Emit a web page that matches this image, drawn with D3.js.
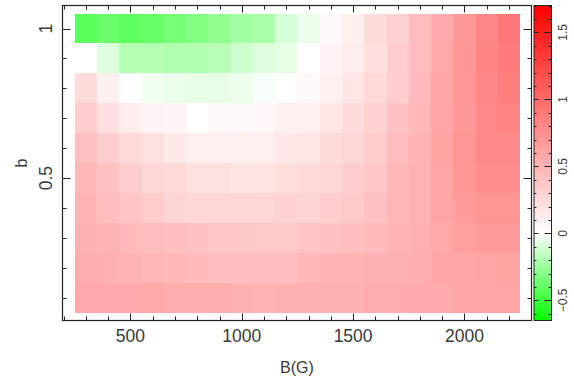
<!DOCTYPE html>
<html><head><meta charset="utf-8">
<script src="https://cdn.jsdelivr.net/npm/d3@7"></script>
<style>
html,body{margin:0;padding:0;background:#fff;}
svg{display:block;font-family:"Liberation Sans",Arial,sans-serif;}
</style></head>
<body><svg id="chart" width="574" height="383"></svg>
<script>
// ---- data ----
const Bvalues = [300,400,500,600,700,800,900,1000,1100,1200,1300,1400,1500,1600,1700,1800,1900,2000,2100,2200];
const bvalues = [1.0,0.9,0.8,0.7,0.6,0.5,0.4,0.3,0.2,0.1];
const row_b10 = [-0.42,-0.38,-0.405,-0.39,-0.344,-0.324,-0.283,-0.235,-0.222,-0.107,-0.05,0.04,0.1,0.233,0.313,0.447,0.567,0.687,0.807,0.907];
const row_b09 = [0.0,-0.087,-0.189,-0.189,-0.2,-0.2,-0.18,-0.13,-0.087,-0.065,0.0,0.08,0.127,0.213,0.333,0.447,0.573,0.693,0.813,0.887];
const row_b08 = [0.233,0.1,0.0,-0.038,-0.055,-0.06,-0.06,-0.043,-0.018,0.0,0.047,0.1,0.167,0.26,0.333,0.453,0.587,0.707,0.8,0.853];
const row_b07 = [0.333,0.213,0.127,0.073,0.067,0.0,0.04,0.047,0.06,0.1,0.113,0.167,0.247,0.3,0.413,0.473,0.6,0.68,0.787,0.813];
const row_b06 = [0.427,0.333,0.247,0.207,0.14,0.113,0.1,0.1,0.113,0.153,0.167,0.233,0.273,0.347,0.447,0.5,0.613,0.707,0.787,0.787];
const row_b05 = [0.473,0.407,0.333,0.273,0.26,0.207,0.207,0.18,0.193,0.22,0.247,0.273,0.333,0.373,0.473,0.513,0.6,0.707,0.76,0.76];
const row_b04 = [0.507,0.447,0.393,0.347,0.287,0.273,0.273,0.273,0.273,0.3,0.287,0.333,0.36,0.413,0.487,0.513,0.6,0.667,0.707,0.707];
const row_b03 = [0.527,0.5,0.46,0.447,0.433,0.407,0.373,0.373,0.36,0.36,0.393,0.413,0.433,0.46,0.5,0.533,0.573,0.633,0.667,0.667];
const row_b02 = [0.553,0.533,0.5,0.487,0.473,0.46,0.433,0.433,0.433,0.433,0.473,0.507,0.507,0.52,0.527,0.54,0.587,0.587,0.6,0.613];
const row_b01 = [0.567,0.567,0.567,0.573,0.553,0.553,0.54,0.52,0.507,0.52,0.527,0.527,0.527,0.553,0.553,0.567,0.567,0.587,0.587,0.6];
const rows = [row_b10,row_b09,row_b08,row_b07,row_b06,row_b05,row_b04,row_b03,row_b02,row_b01];
const xTickLabels = [500,1000,1500,2000];
const yTickLabels = [0.5,1];
const cbTickLabels = [-0.5,0,0.5,1,1.5];
const colorDomain = [-0.65,0,1.7];
const colorRange = ["#00ff00","#ffffff","#ff0000"];

// ---- layout ----
const L=62.5, R=531.5, T=5.5, B=320.5;
const svg = d3.select("#chart");
const x = d3.scaleLinear().domain([195,2301]).range([L,R]);
const y = d3.scaleLinear().domain([0.024,1.077]).range([B,T]);
const color = d3.scaleLinear().domain(colorDomain).range(colorRange);

const cells = [];
rows.forEach((r,i)=>r.forEach((v,j)=>cells.push({B:Bvalues[j], b:bvalues[i], v})));
svg.append("g").selectAll("rect").data(cells).join("rect")
  .attr("x",d=>x(d.B-50)).attr("width",d=>x(d.B+50)-x(d.B-50))
  .attr("y",d=>y(d.b+0.05)).attr("height",d=>y(d.b-0.05)-y(d.b+0.05))
  .attr("fill",d=>color(d.v)).attr("shape-rendering","crispEdges");

const ax = "#222";
const txt = "#3a3a3a";
const xMinor = d3.range(200,2301,100).filter(v=>v%500!==0);
const xMajor = xTickLabels;
const yMinor = d3.range(1,11).map(i=>i/10).filter(v=>Math.abs(v*2-Math.round(v*2))>1e-6);
const yMajor = yTickLabels;

function ticks(g, vals, len, orient){
  g.selectAll(null).data(vals).join("line")
   .attr("stroke",ax).attr("stroke-width",1)
   .attr("x1",d=>orient==="b"||orient==="t"?Math.round(x(d))+0.5:(orient==="l"?L:R))
   .attr("x2",d=>orient==="b"||orient==="t"?Math.round(x(d))+0.5:(orient==="l"?L+len:R-len))
   .attr("y1",d=>orient==="l"||orient==="r"?Math.round(y(d))+0.5:(orient==="b"?B:T))
   .attr("y2",d=>orient==="l"||orient==="r"?Math.round(y(d))+0.5:(orient==="b"?B-len:T+len));
}
const tg = svg.append("g");
ticks(tg,xMinor,4,"b"); ticks(tg,xMajor,7,"b");
ticks(tg,xMinor,4,"t"); ticks(tg,xMajor,7,"t");
ticks(tg,yMinor,4,"l"); ticks(tg,yMajor,8,"l");
ticks(tg,yMinor,4,"r"); ticks(tg,yMajor,8,"r");

svg.append("rect").attr("x",L).attr("y",T).attr("width",R-L).attr("height",B-T)
  .attr("fill","none").attr("stroke",ax).attr("stroke-width",1.2);

// x labels
svg.append("g").selectAll("text").data(xTickLabels).join("text")
  .attr("x",d=>x(d)).attr("y",342).attr("text-anchor","middle")
  .attr("font-size",17.5).attr("fill",txt).text(d=>d);
svg.append("text").attr("x",(L+R)/2).attr("y",373).attr("text-anchor","middle")
  .attr("font-size",16).attr("fill",txt).text("B(G)");
// y labels
svg.append("g").selectAll("text").data(yTickLabels).join("text")
  .attr("transform",d=>`translate(52,${y(d)}) rotate(-90)`).attr("text-anchor","middle")
  .attr("font-size",17.5).attr("fill",txt).text(d=>d);
svg.append("text").attr("transform",`translate(27,${(T+B)/2}) rotate(-90)`).attr("text-anchor","middle")
  .attr("font-size",16).attr("fill",txt).text("b");

// ---- colorbar ----
const cbL=534, cbR=551.5;
const cy = d3.scaleLinear().domain([-0.65,1.7]).range([B,T]);
const grad = svg.append("defs").append("linearGradient").attr("id","cb")
  .attr("x1",0).attr("x2",0).attr("y1",1).attr("y2",0);
colorDomain.forEach((v,i)=>grad.append("stop")
  .attr("offset",(v-colorDomain[0])/(colorDomain[2]-colorDomain[0]))
  .attr("stop-color",colorRange[i]));
svg.append("rect").attr("x",cbL).attr("y",T).attr("width",cbR-cbL).attr("height",B-T)
  .attr("fill","url(#cb)").attr("stroke",ax).attr("stroke-width",1);
const cbMinor = d3.range(-6,18).map(i=>i/10).filter(v=>!cbTickLabels.some(m=>Math.abs(m-v)<1e-6));
const cg = svg.append("g").attr("stroke",ax);
function cbt(vals, lenL, lenR){
  cg.selectAll(null).data(vals).join("line").attr("x1",cbL).attr("x2",cbL+lenL)
    .attr("y1",d=>Math.round(cy(d))+0.5).attr("y2",d=>Math.round(cy(d))+0.5);
  cg.selectAll(null).data(vals).join("line").attr("x1",cbR).attr("x2",cbR-lenR)
    .attr("y1",d=>Math.round(cy(d))+0.5).attr("y2",d=>Math.round(cy(d))+0.5);
}
cbt(cbMinor,2.5,3); cbt(cbTickLabels,4.5,7);
svg.append("g").selectAll("text").data(cbTickLabels).join("text")
  .attr("transform",d=>`translate(567,${cy(d)}) rotate(-90)`).attr("text-anchor","middle")
  .attr("font-size",12).attr("fill",txt).text(d=>d<0?"\u2212"+Math.abs(d):d);
</script></body></html>
